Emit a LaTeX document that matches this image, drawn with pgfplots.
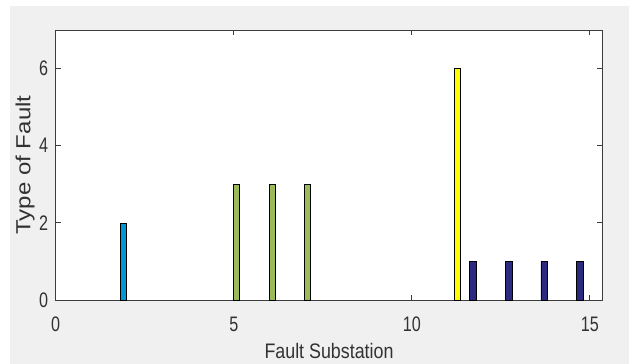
\documentclass[border=0pt]{standalone}
\usepackage{pgfplots}
\pgfplotsset{compat=1.18}
\usepackage{fontspec}
\setmainfont{Liberation Sans}
\newfontfamily\tickfont[FakeStretch=0.77]{Liberation Sans}
\newfontfamily\labfont[FakeStretch=0.85]{Liberation Sans}
\definecolor{figbg}{RGB}{240,240,240}
\definecolor{txt}{RGB}{50,50,50}
\definecolor{axc}{RGB}{60,60,60}
\definecolor{cblue}{RGB}{0,150,212}
\definecolor{cgreen}{RGB}{155,187,89}
\definecolor{cyellow}{RGB}{255,255,0}
\definecolor{cnavy}{RGB}{44,42,128}
\begin{document}
\begin{tikzpicture}
\useasboundingbox (-55.7bp,-64bp) rectangle (573.3bp,300bp);
\fill[figbg] (-45.7bp,-64bp) rectangle (573.3bp,294bp);
\begin{axis}[
  at={(0,0)}, anchor=south west,
  scale only axis,
  width=546.6bp, height=270bp,
  xmin=0, xmax=15.35, ymin=0, ymax=7,
  xtick={0,5,10,15}, ytick={0,2,4,6},
  xtick pos=both, ytick pos=both,
  xticklabel pos=left, yticklabel pos=left,
  tick align=inside,
  major tick length=5bp,
  /pgf/number format/assume math mode=true,
  axis line style={axc, line width=0.9pt},
  every tick/.style={axc, line width=0.9pt},
  axis background/.style={fill=white},
  xticklabel style={font=\tickfont\fontsize{21bp}{21bp}\selectfont, text=txt, inner sep=0pt, anchor=north, yshift=-17bp},
  yticklabel style={font=\tickfont\fontsize{21bp}{21bp}\selectfont, text=txt, inner sep=0pt, anchor=east, xshift=-7.5bp},
  xlabel={Fault Substation},
  ylabel={\scalebox{1}[0.85]{Type of Fault}},
  xlabel style={font=\labfont\fontsize{21bp}{21bp}\selectfont, text=txt, inner sep=0pt, at={(axis description cs:0.5,-0.158)}, anchor=north},
  ylabel style={font=\fontsize{24bp}{24bp}\selectfont, text=txt, inner sep=0pt, at={(axis description cs:-0.0562,0.5)}, anchor=center, rotate=0},
  clip=false,
]
\addplot[ybar, bar shift=0pt, bar width=0.15, fill=cblue, draw=black, line width=0.7pt] coordinates {(1.9,2)};
\addplot[ybar, bar shift=0pt, bar width=0.17, fill=cgreen, draw=black, line width=0.7pt] coordinates {(5.08,3) (6.08,3) (7.08,3)};
\addplot[ybar, bar shift=0pt, bar width=0.17, fill=cyellow, draw=black, line width=0.7pt] coordinates {(11.27,6)};
\addplot[ybar, bar shift=0pt, bar width=0.19, fill=cnavy, draw=black, line width=0.7pt] coordinates {(11.72,1) (12.72,1) (13.72,1) (14.72,1)};
\end{axis}
\end{tikzpicture}
\end{document}
